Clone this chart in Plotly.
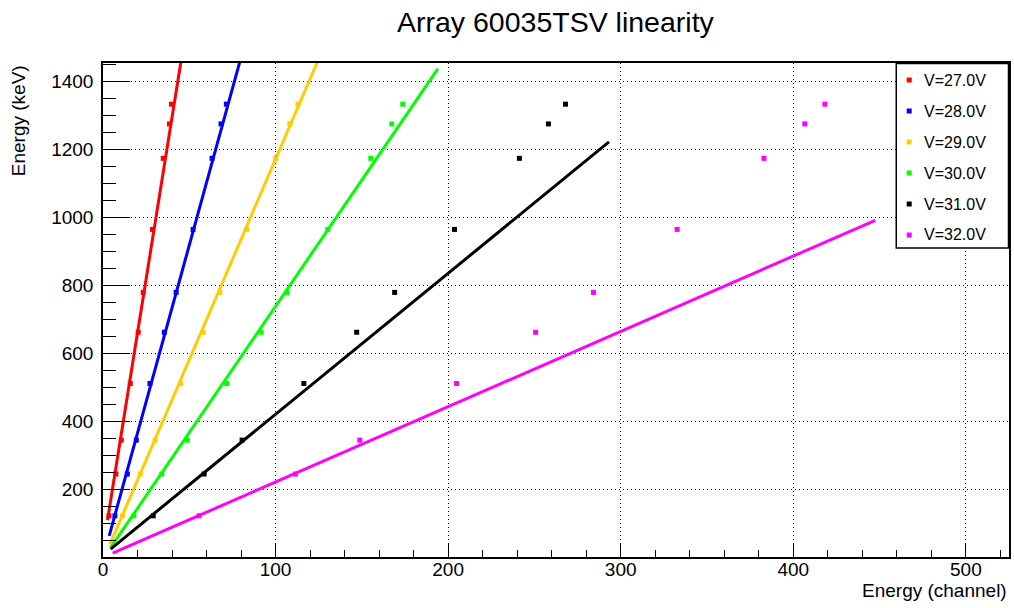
import plotly.graph_objects as go

# ---- data ----
energies_kev = [121.8, 244.7, 344.3, 511.0, 661.7, 778.9, 964.1, 1173.2, 1274.5, 1332.5]

voltages = ["V=27.0V", "V=28.0V", "V=29.0V", "V=30.0V", "V=31.0V", "V=32.0V"]

ch_27 = [3.5, 7.5, 10.6, 15.8, 20.4, 23.3, 28.7, 34.9, 38.5, 39.7]
ch_28 = [6.9, 14.1, 19.3, 27.2, 35.5, 42.4, 52.2, 63.2, 68.4, 71.5]
ch_29 = [11.2, 21.6, 30.2, 44.9, 58.0, 67.7, 83.3, 100.1, 108.3, 113.0]
ch_30 = [17.9, 34.1, 48.8, 71.7, 91.6, 106.6, 130.3, 155.2, 167.3, 173.7]
ch_31 = [29.1, 58.6, 80.6, 116.4, 147.0, 169.0, 203.7, 241.3, 258.1, 268.0]
ch_32 = [55.7, 111.5, 148.8, 204.9, 250.7, 284.2, 332.7, 383.0, 406.7, 418.3]

# fit-line end points (channel, keV)
fit_ch_start = [2.6, 3.6, 4.0, 4.4, 4.4, 5.6]
fit_e_start = [109, 63, 38, 28, 24, 12]
fit_ch_end = [46.5, 81.6, 127.9, 194.1, 293.2, 447.5]
fit_e_end = [1500, 1500, 1500, 1437, 1221.5, 991]

colors = ["#FF0000", "#0000FF", "#FFCC00", "#00FF00", "#000000", "#FF00FF"]

x_ticks = [0, 100, 200, 300, 400, 500]
y_ticks = [200, 400, 600, 800, 1000, 1200, 1400]

# ---- layout geometry (pixels) ----
W, H = 1014, 608
L, R, T, B = 103, 1011, 63, 557
PW, PH = R - L, B - T

def px_x(p):
    return (p - L) / PW

def px_y(p):
    return (B - p) / PH

FONT = "Liberation Sans, Arial, Helvetica, sans-serif"

fig = go.Figure()
series = [ch_27, ch_28, ch_29, ch_30, ch_31, ch_32]
for i, chs in enumerate(series):
    fig.add_trace(go.Scatter(
        x=[fit_ch_start[i], fit_ch_end[i]], y=[fit_e_start[i], fit_e_end[i]],
        mode="lines", line=dict(color=colors[i], width=3), showlegend=False,
        hoverinfo="skip"))
for i, chs in enumerate(series):
    fig.add_trace(go.Scatter(
        x=chs, y=energies_kev, mode="markers", name=voltages[i],
        marker=dict(symbol="square", size=5, color=colors[i], line=dict(width=0)),
        showlegend=False))

axis_common = dict(
    showline=True, linecolor="black", linewidth=1.5, mirror=True,
    showgrid=True, gridcolor="black", gridwidth=1, griddash="1px,3px",
    zeroline=False, ticks="inside", tickcolor="black", tickwidth=1,
    tickfont=dict(family=FONT, size=19, color="black"),
)

fig.update_xaxes(
    range=[0, 525], tickvals=x_ticks, ticklen=14,
    minor=dict(dtick=20, tick0=0, ticks="inside", ticklen=7, tickcolor="black", showgrid=False),
    ticklabelstandoff=-6,
    **axis_common)
fig.update_yaxes(
    range=[0.7, 1453.6], tickvals=y_ticks, ticklen=27,
    minor=dict(dtick=50, tick0=0, ticks="inside", ticklen=13, tickcolor="black", showgrid=False),
    ticklabelstandoff=4,
    **axis_common)

annotations = [
    dict(text="Array 60035TSV linearity", xref="paper", yref="paper",
         x=px_x(557), y=px_y(22), xanchor="center", yanchor="middle",
         showarrow=False, font=dict(family=FONT, size=28.5, color="black")),
    dict(text="Energy (channel)", xref="paper", yref="paper",
         x=px_x(1011), y=px_y(590), xanchor="right", yanchor="middle",
         showarrow=False, font=dict(family=FONT, size=19, color="black")),
    dict(text="Energy (keV)", xref="paper", yref="paper", textangle=-90,
         x=px_x(18), y=px_y(121), xanchor="center", yanchor="middle",
         showarrow=False, font=dict(family=FONT, size=19, color="black")),
]

shapes = [dict(type="rect", xref="paper", yref="paper",
               x0=px_x(898), x1=px_x(1010.5), y0=px_y(248), y1=px_y(63.5),
               line=dict(color="black", width=1.5), fillcolor="white", layer="above")]

leg_y = [80, 111, 142, 173, 204, 235]
for i, lab in enumerate(voltages):
    cy = leg_y[i]
    shapes.append(dict(type="rect", xref="paper", yref="paper",
                       x0=px_x(908.5), x1=px_x(913.5), y0=px_y(cy + 2.5), y1=px_y(cy - 2.5),
                       line=dict(width=0), fillcolor=colors[i], layer="above"))
    annotations.append(dict(text=lab, xref="paper", yref="paper",
                            x=px_x(924), y=px_y(cy), xanchor="left", yanchor="middle",
                            showarrow=False, font=dict(family=FONT, size=16, color="black")))

fig.update_layout(
    width=W, height=H,
    margin=dict(l=L, r=W - R, t=T, b=H - B, pad=0),
    paper_bgcolor="white", plot_bgcolor="white",
    showlegend=False,
    annotations=annotations, shapes=shapes,
)

fig.write_html("out.html", include_plotlyjs=True, full_html=True,
               config={"displayModeBar": False})
